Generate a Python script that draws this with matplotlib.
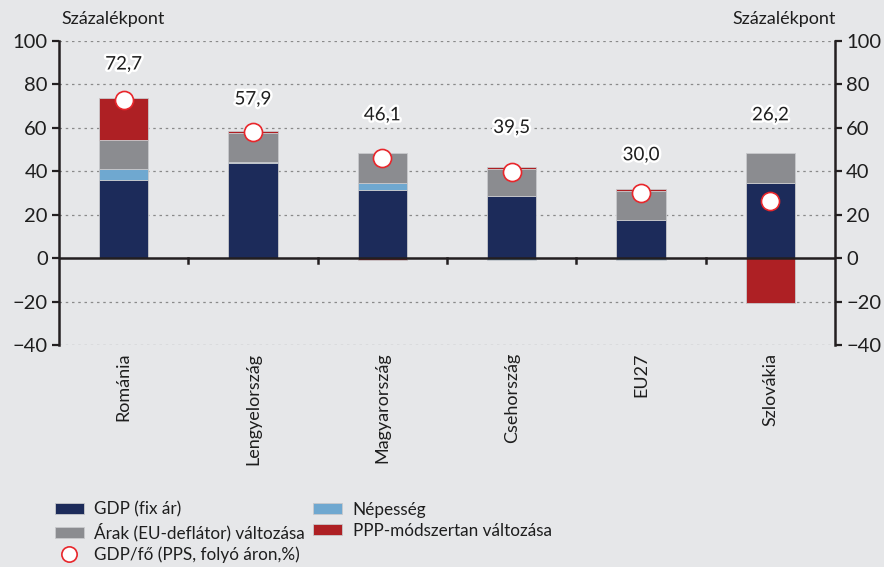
import matplotlib
matplotlib.use("Agg")
import matplotlib.pyplot as plt
import matplotlib.patheffects as pe
from matplotlib.patches import Patch
from matplotlib.lines import Line2D
import numpy as np

plt.rcParams['font.family'] = ['Lato', 'DejaVu Sans']

categories = ["Románia", "Lengyelország", "Magyarország", "Csehország", "EU27", "Szlovákia"]
gdp_fix = [35.9, 44.0, 31.6, 28.6, 17.4, 34.8]
nepesseg = [5.0, 0.3, 3.2, -1.0, -0.8, 0.0]
arak = [13.5, 13.3, 13.4, 12.3, 13.4, 13.4]
ppp = [19.4, 0.9, -1.0, 1.1, 1.1, -20.5]
gdp_fo = [72.7, 57.9, 46.1, 39.5, 30.0, 26.2]
gdp_fo_labels = ["72,7", "57,9", "46,1", "39,5", "30,0", "26,2"]
label_y = [89.4, 73.3, 66.0, 60.2, 47.6, 66.0]

c_gdp = "#1c2b5a"
c_nep = "#6fa8d0"
c_arak = "#8b8c90"
c_ppp = "#ae2024"
bg = "#e6e7e9"
txt = "#1e1e1e"

fig = plt.figure(figsize=(8.84, 5.67), dpi=100, facecolor=bg)
ax = fig.add_axes([0.0667, 0.3915, 0.878, 0.5362], facecolor=bg)

x = np.arange(len(categories))
w = 0.38
series = [(gdp_fix, c_gdp), (nepesseg, c_nep), (arak, c_arak), (ppp, c_ppp)]
pos_base = np.zeros(len(x))
neg_base = np.zeros(len(x))
for vals, col in series:
    vals = np.array(vals, dtype=float)
    bottoms = np.where(vals >= 0, pos_base, neg_base)
    ax.bar(x, vals, w, bottom=bottoms, color=col, edgecolor="#c8c9cc", linewidth=0.6, zorder=3)
    pos_base = pos_base + np.where(vals >= 0, vals, 0)
    neg_base = neg_base + np.where(vals < 0, vals, 0)

ax.plot(x, gdp_fo, linestyle="none", marker="o", markersize=13, markerfacecolor="white",
        markeredgecolor="#e8262b", markeredgewidth=1.2, zorder=5)

for xi, yi, lab in zip(x, label_y, gdp_fo_labels):
    ax.text(xi, yi, lab, ha="center", va="center", fontsize=13.5, color=txt, zorder=6,
            path_effects=[pe.withStroke(linewidth=3.5, foreground="white")])

ax.set_xlim(-0.5, len(categories) - 0.5)
ax.set_ylim(-40, 100)
ax.set_yticks(np.arange(-40, 101, 20))
ax.set_yticklabels([("\u2212" + str(abs(v))) if v < 0 else str(v) for v in range(-40, 101, 20)])
for gy in [-40, -20, 20, 40, 60, 80, 100]:
    ax.axhline(gy, color="#8a8a8a", linestyle=(0, (2, 3)), linewidth=0.9, zorder=1)
ax.axhline(0, color="#231f20", linewidth=1.8, zorder=4)

ax.tick_params(axis="y", which="both", direction="out", length=5, width=1.6, color="#231f20",
               labelsize=14.5, labelcolor=txt, left=True, right=True, labelleft=True, labelright=True, pad=3)
ax.set_xticks([])
for b in np.arange(0.5, len(categories) - 0.5, 1.0):
    ax.plot([b, b], [0, -2.2], color="#231f20", linewidth=1.8, zorder=4, clip_on=False)

for s in ["top", "bottom"]:
    ax.spines[s].set_visible(False)
for s in ["left", "right"]:
    ax.spines[s].set_color("#231f20")
    ax.spines[s].set_linewidth(1.8)

for xi, cat in zip(x, categories):
    ax.text(xi, -43.5, cat, rotation=90, ha="center", va="top", fontsize=13, color=txt)

fig.text(0.070, 0.967, "Százalékpont", ha="left", va="center", fontsize=13, color=txt)
fig.text(0.946, 0.967, "Százalékpont", ha="right", va="center", fontsize=13, color=txt)

handles = [
    Patch(facecolor=c_gdp, edgecolor="#c8c9cc", linewidth=0.6, label="GDP (fix ár)"),
    Patch(facecolor=c_arak, edgecolor="#c8c9cc", linewidth=0.6, label="Árak (EU-deflátor) változása"),
    Line2D([], [], linestyle="none", marker="o", markersize=11, markerfacecolor="white",
           markeredgecolor="#e8262b", markeredgewidth=1.2, label="GDP/fő (PPS, folyó áron,%)"),
    Patch(facecolor=c_nep, edgecolor="#c8c9cc", linewidth=0.6, label="Népesség"),
    Patch(facecolor=c_ppp, edgecolor="#c8c9cc", linewidth=0.6, label="PPP-módszertan változása"),
]
fig.legend(handles=handles, ncol=2, loc="upper left", bbox_to_anchor=(0.062, 0.115),
           frameon=False, fontsize=12.3, handlelength=1.7, handleheight=0.6, handletextpad=0.6,
           columnspacing=0.5, labelspacing=0.28, borderaxespad=0, borderpad=0,
           labelcolor=txt)

fig.savefig("out.png", dpi=100, facecolor=bg)
